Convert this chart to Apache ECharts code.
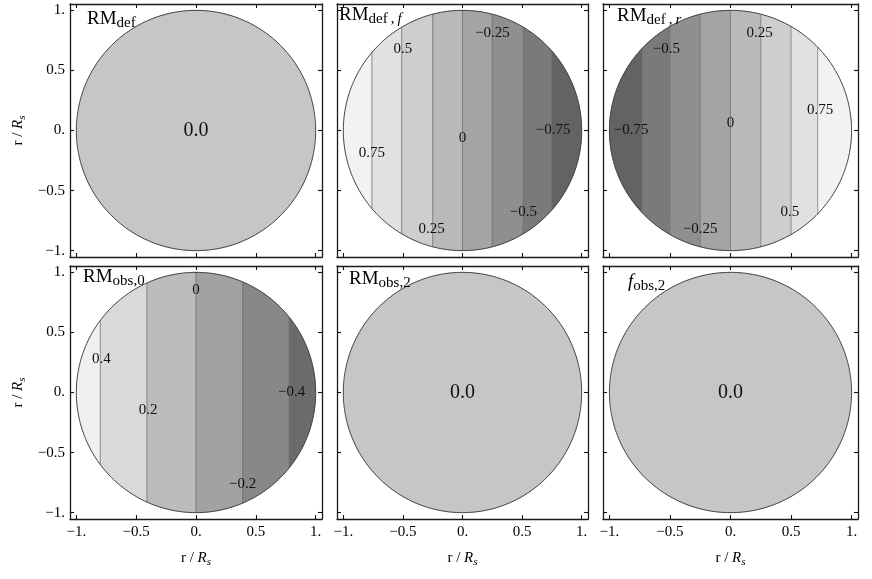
<!DOCTYPE html>
<html><head><meta charset="utf-8">
<script src="https://cdn.jsdelivr.net/npm/echarts@6/dist/echarts.min.js"></script>
<style>html,body{margin:0;padding:0;background:#fff}#c{width:872px;height:579px}</style>
</head><body><div id="c"></div>
<script>
// ---------------- data ----------------
const tickValues = [-1, -0.5, 0, 0.5, 1];
const tickLabels = ['\u22121.', '\u22120.5', '0.', '0.5', '1.'];

// RM_def : uniform value over the disk
const rmDefValue = 0.0;

// RM_def,f : contour levels, their x-positions, label positions [x, y]
const rmDefFLevels    = [0.75, 0.5, 0.25, 0, -0.25, -0.5, -0.75];
const rmDefFPositions = [-0.76, -0.51, -0.25, 0, 0.25, 0.51, 0.75];
const rmDefFLabelPos  = [[-0.76, -0.19], [-0.50, 0.68], [-0.26, -0.82], [0, -0.06], [0.25, 0.81], [0.51, -0.68], [0.76, 0.0]];

// RM_def,r
const rmDefRLevels    = [-0.75, -0.5, -0.25, 0, 0.25, 0.5, 0.75];
const rmDefRPositions = [-0.73, -0.50, -0.25, 0, 0.25, 0.50, 0.72];
const rmDefRLabelPos  = [[-0.82, 0.0], [-0.53, 0.68], [-0.25, -0.82], [0, 0.06], [0.24, 0.81], [0.49, -0.68], [0.74, 0.17]];

// RM_obs,0
const rmObs0Levels    = [0.4, 0.2, 0, -0.2, -0.4];
const rmObs0Positions = [-0.80, -0.41, 0, 0.39, 0.78];
const rmObs0LabelPos  = [[-0.79, 0.28], [-0.40, -0.15], [0, 0.855], [0.39, -0.76], [0.80, 0.0]];

// RM_obs,2 and f_obs,2 : uniform
const rmObs2Value = 0.0;
const fObs2Value = 0.0;

// disk: centre and radius in r / R_s
const disk = [0, 0, 1];

// ---------------- styles ----------------
const FONT = '"Liberation Serif", "Times New Roman", serif';
const palette8 = ['#636363', '#7a7a7a', '#8f8f8f', '#a4a4a4', '#b9b9b9', '#cecece', '#e1e1e1', '#f2f2f2'];
const palette6 = ['#6b6b6b', '#888888', '#a2a2a2', '#bcbcbc', '#d9d9d9', '#f0f0f0'];
const uniformColor = '#c6c6c6';

const colLeft = [70, 337, 603];
const colWidth = [252, 251, 255];
const rowTop = [4, 266];
const rowHeight = 253;
const AX = 1.053;

const panels = [
  { uniform: rmDefValue },
  { levels: rmDefFLevels, positions: rmDefFPositions, labelPos: rmDefFLabelPos, palette: palette8 },
  { levels: rmDefRLevels, positions: rmDefRPositions, labelPos: rmDefRLabelPos, palette: palette8 },
  { levels: rmObs0Levels, positions: rmObs0Positions, labelPos: rmObs0LabelPos, palette: palette6 },
  { uniform: rmObs2Value },
  { uniform: fObs2Value }
];

const titles = [
  { text: '{m|RM}{s|def}', x: 87, base: 25 },
  { text: '{m|RM}{s|def\u2009,\u2009}{si|f}', x: 339, base: 21 },
  { text: '{m|RM}{s|def\u2009,\u2009}{si|r}', x: 617, base: 22 },
  { text: '{m|RM}{s|obs,0}', x: 83, base: 283 },
  { text: '{m|RM}{s|obs,2}', x: 349, base: 285 },
  { text: '{mi|f}{s|obs,2}', x: 628, base: 288 }
];
const titleRich = {
  m:  { fontFamily: FONT, fontSize: 19, lineHeight: 24, color: '#000' },
  mi: { fontFamily: FONT, fontSize: 19, lineHeight: 24, color: '#000', fontStyle: 'italic' },
  s:  { fontFamily: FONT, fontSize: 15, lineHeight: 15, color: '#000', verticalAlign: 'bottom' },
  si: { fontFamily: FONT, fontSize: 15, lineHeight: 15, color: '#000', verticalAlign: 'bottom', fontStyle: 'italic' }
};
const nameRich = {
  n: { fontFamily: FONT, fontSize: 15, lineHeight: 20, color: '#000' },
  i: { fontFamily: FONT, fontSize: 15, lineHeight: 20, color: '#000', fontStyle: 'italic' },
  s: { fontFamily: FONT, fontSize: 11, lineHeight: 11, color: '#000', fontStyle: 'italic', verticalAlign: 'bottom' }
};
const axisName = '{n|r / }{i|R}{s|s}';

function fmtLevel(v) {
  if (v === 0) return '0';
  return (v < 0 ? '\u2212' : '') + String(Math.abs(v));
}
function fmtTick(v) {
  for (let k = 0; k < tickValues.length; k++) if (Math.abs(tickValues[k] - v) < 1e-9) return tickLabels[k];
  return '';
}

const grids = [], xAxes = [], yAxes = [], series = [];

panels.forEach((p, i) => {
  const col = i % 3, row = Math.floor(i / 3);
  grids.push({ left: colLeft[col], top: rowTop[row], width: colWidth[col], height: rowHeight,
    show: false, containLabel: false });
  const mkAxis = (pos, showLabel, withName) => {
    const a = {
      type: 'value', gridIndex: i, min: -AX, max: AX, position: pos,
      axisLine: { show: true, onZero: false, lineStyle: { color: '#1a1a1a', width: 1.3 } },
      splitLine: { show: false },
      axisTick: { show: true, inside: true, length: 4, customValues: tickValues, lineStyle: { color: '#111', width: 1.1 } },
      axisLabel: { show: showLabel, customValues: tickValues, formatter: fmtTick,
        fontFamily: FONT, fontSize: 15, color: '#000', margin: (pos === 'bottom' ? 6 : 5) }
    };
    if (withName) {
      a.name = axisName; a.nameLocation = 'middle';
      a.nameGap = (pos === 'bottom' ? 29 : 42);
      a.nameTextStyle = { rich: nameRich, fontFamily: FONT, fontSize: 15, color: '#000' };
    }
    return a;
  };
  xAxes.push(mkAxis('bottom', row === 1, row === 1));
  xAxes.push(mkAxis('top', false, false));
  yAxes.push(mkAxis('left', col === 0, col === 0));
  yAxes.push(mkAxis('right', false, false));
  const xi = 2 * i, yi = 2 * i;

  // bands
  let bands = [];
  if (p.uniform !== undefined) {
    bands = [[disk[0] - disk[2], disk[0] + disk[2], -1]];
  } else {
    const edges = [disk[0] - disk[2]].concat(p.positions, [disk[0] + disk[2]]);
    const n = p.levels.length;
    const decreasing = p.levels[1] < p.levels[0];
    for (let k = 0; k <= n; k++) {
      const rank = decreasing ? n - k : k;
      bands.push([edges[k], edges[k + 1], rank]);
    }
  }
  const pal = p.palette;
  series.push({
    type: 'custom', coordinateSystem: 'cartesian2d', xAxisIndex: xi, yAxisIndex: yi, z: 2,
    data: bands, silent: true,
    renderItem: (params, api) => {
      const x0 = api.value(0), x1 = api.value(1), rank = api.value(2);
      const R = disk[2], cx = disk[0], cy = disk[1];
      const pts = [], N = 80;
      for (let k = 0; k <= N; k++) {
        const x = x0 + (x1 - x0) * k / N;
        pts.push(api.coord([x, cy + Math.sqrt(Math.max(0, R * R - (x - cx) * (x - cx)))]));
      }
      for (let k = N; k >= 0; k--) {
        const x = x0 + (x1 - x0) * k / N;
        pts.push(api.coord([x, cy - Math.sqrt(Math.max(0, R * R - (x - cx) * (x - cx)))]));
      }
      const c = rank < 0 ? uniformColor : pal[rank];
      return { type: 'polygon', shape: { points: pts }, style: { fill: c, stroke: c, lineWidth: 0.6 } };
    }
  });

  // contour lines
  if (p.positions) {
    series.push({
      type: 'custom', coordinateSystem: 'cartesian2d', xAxisIndex: xi, yAxisIndex: yi, z: 3,
      data: p.positions.map(x => [x, 0]), silent: true,
      renderItem: (params, api) => {
        const x = api.value(0), R = disk[2];
        const h = Math.sqrt(Math.max(0, R * R - (x - disk[0]) * (x - disk[0])));
        const a = api.coord([x, disk[1] + h]), b = api.coord([x, disk[1] - h]);
        return { type: 'line', shape: { x1: a[0], y1: a[1], x2: b[0], y2: b[1] },
          style: { stroke: '#6a6a6a', lineWidth: 1, opacity: 0.7 } };
      }
    });
  }

  // disk outline
  series.push({
    type: 'custom', coordinateSystem: 'cartesian2d', xAxisIndex: xi, yAxisIndex: yi, z: 4,
    data: [disk], silent: true,
    renderItem: (params, api) => {
      const cx = api.value(0), cy = api.value(1), R = api.value(2);
      const pts = [];
      for (let k = 0; k < 240; k++) {
        const t = 2 * Math.PI * k / 240;
        pts.push(api.coord([cx + R * Math.cos(t), cy + R * Math.sin(t)]));
      }
      return { type: 'polygon', shape: { points: pts }, style: { fill: 'none', stroke: '#444', lineWidth: 1 } };
    }
  });

  // labels
  let labels;
  if (p.uniform !== undefined) labels = [[disk[0], disk[1], p.uniform.toFixed(1), 1]];
  else labels = p.levels.map((lv, k) => [p.labelPos[k][0], p.labelPos[k][1], fmtLevel(lv), 0]);
  series.push({
    type: 'custom', coordinateSystem: 'cartesian2d', xAxisIndex: xi, yAxisIndex: yi, z: 5,
    data: labels, silent: true,
    renderItem: (params, api) => {
      const pt = api.coord([api.value(0), api.value(1)]);
      const big = labels[params.dataIndex][3] === 1;
      return { type: 'text', x: pt[0], y: pt[1],
        style: { text: labels[params.dataIndex][2], fontFamily: FONT, fontSize: big ? 20 : 15,
          fill: '#111', align: 'center', verticalAlign: 'middle' } };
    }
  });
});

const graphics = titles.map(t => ({
  type: 'text', x: t.x, y: t.base - 18.4, z: 10, silent: true,
  style: { text: t.text, rich: titleRich, align: 'left', verticalAlign: 'top', fontFamily: FONT, fontSize: 19, fill: '#000' }
}));

const chart = echarts.init(document.getElementById('c'), null, { renderer: 'canvas' });
chart.setOption({
  animation: false,
  backgroundColor: '#fff',
  grid: grids, xAxis: xAxes, yAxis: yAxes, series: series,
  graphic: graphics
});
</script>
</body></html>
